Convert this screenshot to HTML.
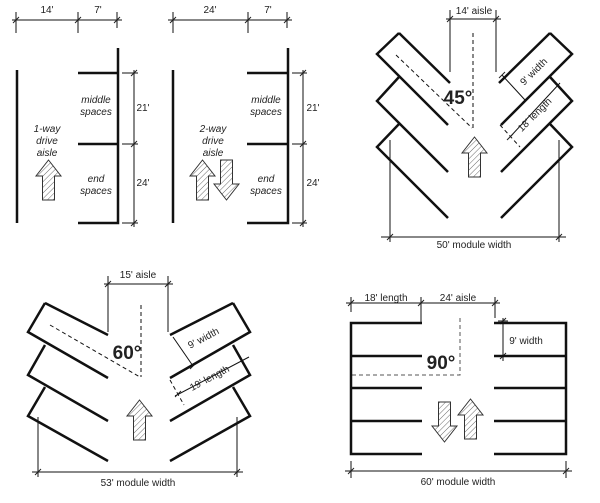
<!DOCTYPE html>
<html><head><meta charset="utf-8"><style>html,body{margin:0;padding:0;background:#fff}svg{display:block}</style></head>
<body>
<svg width="600" height="503" viewBox="0 0 600 503" xmlns="http://www.w3.org/2000/svg" font-family="Liberation Sans, sans-serif" fill="none">
<defs>
<pattern id="h" width="4" height="4" patternUnits="userSpaceOnUse" patternTransform="rotate(45)"><line x1="0" y1="0" x2="0" y2="4" stroke="#444" stroke-width="0.8"/></pattern>
<g id="up"><path d="M6.5,40 V16 H0 L12.5,0 L25,16 H18.5 V40 Z" fill="url(#h)" stroke="#333" stroke-width="1"/></g>
<g id="tk"><line x1="-3" y1="3" x2="3" y2="-3" stroke="#222" stroke-width="1"/></g>
</defs>
<g stroke="#111" stroke-width="1">
<!-- panel1 dims -->
<line x1="12" y1="20" x2="122" y2="20"/>
<line x1="16" y1="12" x2="16" y2="33"/><line x1="78" y1="12" x2="78" y2="33"/><line x1="117" y1="12" x2="117" y2="28"/>
<line x1="122" y1="73" x2="138" y2="73"/><line x1="122" y1="144" x2="138" y2="144"/><line x1="122" y1="223" x2="138" y2="223"/>
<line x1="134" y1="70" x2="134" y2="227"/>
<!-- panel2 dims -->
<line x1="168" y1="20" x2="292" y2="20"/>
<line x1="173" y1="12" x2="173" y2="33"/><line x1="248" y1="12" x2="248" y2="33"/><line x1="287" y1="12" x2="287" y2="28"/>
<line x1="292" y1="73" x2="307" y2="73"/><line x1="292" y1="144" x2="307" y2="144"/><line x1="292" y1="223" x2="307" y2="223"/>
<line x1="303" y1="70" x2="303" y2="227"/>
</g>
<g>
<use href="#tk" x="16" y="20"/><use href="#tk" x="78" y="20"/><use href="#tk" x="117" y="20"/>
<use href="#tk" x="134" y="73"/><use href="#tk" x="134" y="144"/><use href="#tk" x="134" y="223"/>
<use href="#tk" x="173" y="20"/><use href="#tk" x="248" y="20"/><use href="#tk" x="287" y="20"/>
<use href="#tk" x="303" y="73"/><use href="#tk" x="303" y="144"/><use href="#tk" x="303" y="223"/>
</g>
<g stroke="#111" stroke-width="2.5">
<line x1="17" y1="70" x2="17" y2="223"/>
<polyline points="78,73 118,73 118,48 118,223 78,223"/><line x1="78" y1="144" x2="118" y2="144"/>
<line x1="173" y1="70" x2="173" y2="223"/>
<polyline points="247,73 288,73 288,48 288,223 247,223"/><line x1="247" y1="144" x2="288" y2="144"/>
</g>
<g fill="#222" font-size="10" text-anchor="middle">
<text x="47" y="13">14'</text><text x="98" y="13">7'</text>
<text x="210" y="13">24'</text><text x="268" y="13">7'</text>
<text x="143" y="111">21'</text><text x="143" y="186">24'</text>
<text x="313" y="111">21'</text><text x="313" y="186">24'</text>
<g font-style="italic">
<text x="96" y="103">middle</text><text x="96" y="115">spaces</text>
<text x="96" y="182">end</text><text x="96" y="194">spaces</text>
<text x="266" y="103">middle</text><text x="266" y="115">spaces</text>
<text x="266" y="182">end</text><text x="266" y="194">spaces</text>
<text x="47" y="132">1-way</text><text x="47" y="144">drive</text><text x="47" y="156">aisle</text>
<text x="213" y="132">2-way</text><text x="213" y="144">drive</text><text x="213" y="156">aisle</text>
</g>
</g>
<use href="#up" x="36" y="160"/>
<use href="#up" x="190" y="160"/>
<use href="#up" transform="translate(239,200) rotate(180)"/>

<!-- panel3 45 -->
<g stroke="#111" stroke-width="1">
<line x1="446" y1="19" x2="501" y2="19"/>
<line x1="450" y1="10" x2="450" y2="72"/><line x1="496" y1="10" x2="496" y2="72"/>
<line x1="381" y1="237" x2="566" y2="237"/>
<line x1="390" y1="140" x2="390" y2="242"/><line x1="559" y1="140" x2="559" y2="242"/>
<line x1="502" y1="75" x2="525" y2="100"/>
<line x1="560" y1="83" x2="510" y2="137"/>
</g>
<g stroke="#111" stroke-width="1" stroke-dasharray="4,3">
<line x1="473" y1="33" x2="473" y2="128"/><line x1="396" y1="55" x2="472" y2="128"/>
<line x1="500" y1="125" x2="520" y2="147"/>
</g>
<g><use href="#tk" x="450" y="19"/><use href="#tk" x="496" y="19"/><use href="#tk" x="390" y="237"/><use href="#tk" x="559" y="237"/><use href="#tk" x="502" y="75"/><use href="#tk" x="525" y="100"/><use href="#tk" x="510" y="137"/></g>
<g stroke="#111" stroke-width="2.5">
<line x1="399" y1="33" x2="450" y2="83"/>
<polyline points="399,33 377,54 448,125"/>
<polyline points="399,77 377,101 448,172"/>
<polyline points="399,124 377,147 448,218"/>
<line x1="550" y1="33" x2="499" y2="83"/>
<polyline points="550,33 572,54 501,125"/>
<polyline points="550,77 572,101 501,172"/>
<polyline points="550,124 572,147 501,218"/>
</g>
<use href="#up" x="462" y="137"/>
<g fill="#222" font-size="10" text-anchor="middle">
<text x="474" y="14">14' aisle</text>
<text x="474" y="248">50' module width</text>
<text x="458" y="104" font-size="19" font-weight="bold">45°</text>
<text transform="translate(536,74) rotate(-45)">9' width</text>
<text transform="translate(537,117) rotate(-45)">18' length</text>
</g>

<!-- panel4 60 -->
<g stroke="#111" stroke-width="1">
<line x1="104" y1="284" x2="173" y2="284"/>
<line x1="108" y1="276" x2="108" y2="332"/><line x1="168" y1="276" x2="168" y2="332"/>
<line x1="32" y1="472" x2="243" y2="472"/>
<line x1="38" y1="417" x2="38" y2="477"/><line x1="237" y1="417" x2="237" y2="477"/>
<line x1="173" y1="337" x2="193" y2="366"/>
<line x1="249" y1="357" x2="175" y2="396"/>
</g>
<g stroke="#111" stroke-width="1" stroke-dasharray="4,3">
<line x1="141" y1="305" x2="141" y2="377"/><line x1="50" y1="325" x2="140" y2="377"/>
<line x1="170" y1="380" x2="184" y2="405"/>
</g>
<g><use href="#tk" x="108" y="284"/><use href="#tk" x="168" y="284"/><use href="#tk" x="38" y="472"/><use href="#tk" x="237" y="472"/><use href="#tk" x="193" y="366"/><use href="#tk" x="178" y="394"/></g>
<g stroke="#111" stroke-width="2.5">
<line x1="45" y1="303" x2="108" y2="335"/>
<polyline points="45,303 28,332 108,378"/>
<polyline points="45,345 28,375 108,421"/>
<polyline points="45,387 28,416 108,461"/>
<line x1="233" y1="303" x2="170" y2="335"/>
<polyline points="233,303 250,332 170,378"/>
<polyline points="233,345 250,375 170,421"/>
<polyline points="233,387 250,416 170,461"/>
</g>
<use href="#up" x="127" y="400"/>
<g fill="#222" font-size="10" text-anchor="middle">
<text x="138" y="278">15' aisle</text>
<text x="138" y="486">53' module width</text>
<text x="127" y="359" font-size="19" font-weight="bold">60°</text>
<text transform="translate(205,341) rotate(-28)">9' width</text>
<text transform="translate(211,381) rotate(-28)">19' length</text>
</g>

<!-- panel5 90 -->
<g stroke="#111" stroke-width="1">
<line x1="346" y1="303" x2="500" y2="303"/>
<line x1="351" y1="297" x2="351" y2="312"/><line x1="421" y1="297" x2="421" y2="322"/><line x1="495" y1="297" x2="495" y2="318"/>
<line x1="345" y1="471" x2="572" y2="471"/>
<line x1="351" y1="461" x2="351" y2="478"/><line x1="566" y1="461" x2="566" y2="478"/>
<line x1="503" y1="318" x2="503" y2="361"/>
<line x1="498" y1="321" x2="508" y2="321"/><line x1="498" y1="356" x2="508" y2="356"/>
</g>
<g stroke="#555" stroke-width="1" stroke-dasharray="4,3">
<polyline points="460,318 460,375 351,375"/>
</g>
<g><use href="#tk" x="351" y="303"/><use href="#tk" x="421" y="303"/><use href="#tk" x="495" y="303"/><use href="#tk" x="351" y="471"/><use href="#tk" x="566" y="471"/><use href="#tk" x="503" y="321"/><use href="#tk" x="503" y="356"/></g>
<g stroke="#111" stroke-width="2.5">
<polyline points="422,323 351,323 351,454 422,454"/>
<line x1="351" y1="356" x2="422" y2="356"/><line x1="351" y1="388" x2="422" y2="388"/><line x1="351" y1="421" x2="422" y2="421"/>
<polyline points="494,323 566,323 566,454 494,454"/>
<line x1="494" y1="356" x2="566" y2="356"/><line x1="494" y1="388" x2="566" y2="388"/><line x1="494" y1="421" x2="566" y2="421"/>
</g>
<use href="#up" transform="translate(457,442) rotate(180)"/>
<use href="#up" x="458" y="399"/>
<g fill="#222" font-size="10" text-anchor="middle">
<text x="386" y="301">18' length</text>
<text x="458" y="301">24' aisle</text>
<text x="526" y="344">9' width</text>
<text x="458" y="485">60' module width</text>
<text x="441" y="369" font-size="19" font-weight="bold">90°</text>
</g>
</svg>
</body></html>
